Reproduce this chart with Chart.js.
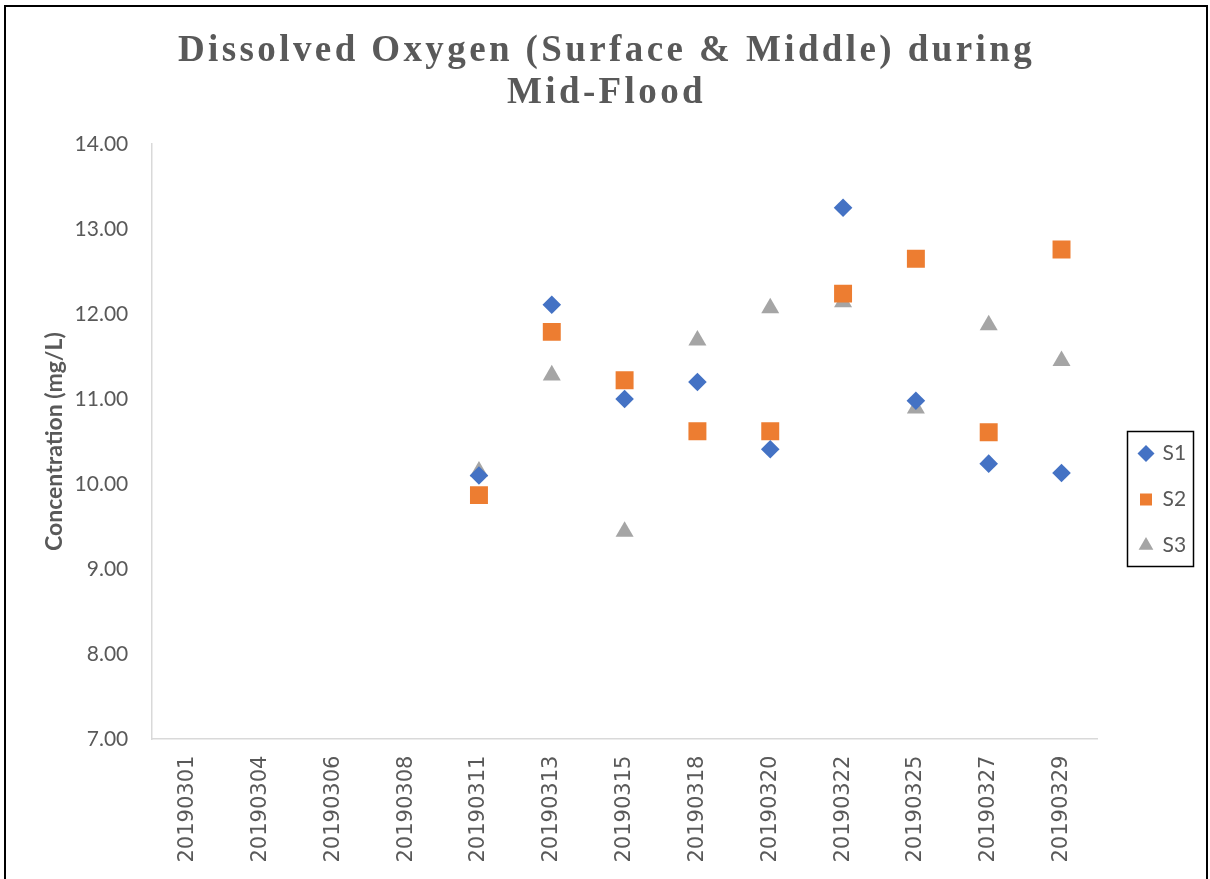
<!DOCTYPE html>
<html>
<head>
<meta charset="utf-8">
<title>Dissolved Oxygen (Surface &amp; Middle) during Mid-Flood</title>
<script src="https://cdn.jsdelivr.net/npm/chart.js@4/dist/chart.umd.min.js"></script>
<style>
  html, body { margin: 0; padding: 0; background: #ffffff; }
  #wrap { width: 1210px; height: 879px; position: relative; overflow: hidden; }
</style>
</head>
<body>
<div id="wrap"><canvas id="chart" width="1210" height="879"></canvas></div>
<script>
// Sampling dates (category axis)
const dates = ['20190301', '20190304', '20190306', '20190308', '20190311', '20190313',
               '20190315', '20190318', '20190320', '20190322', '20190325', '20190327', '20190329'];

// Dissolved oxygen, mg/L, per station (no sampling before 11 March)
const s1 = [null, null, null, null, 10.10, 12.11, 11.00, 11.20, 10.41, 13.25, 10.98, 10.24, 10.13];
const s2 = [null, null, null, null, 9.87, 11.79, 11.22, 10.62, 10.62, 12.24, 12.65, 10.61, 12.76];
const s3 = [null, null, null, null, 10.15, 11.28, 9.44, 11.69, 12.07, 12.14, 10.89, 11.87, 11.45];

const seriesNames = ['S1', 'S2', 'S3'];
const titleLines = ['Dissolved Oxygen (Surface & Middle) during', 'Mid-Flood'];
const yAxisTitle = 'Concentration (mg/L)';
const yMin = 7, yMax = 14, yStep = 1;

const TEXT = '#595959';
const AXIS = '#d9d9d9';

// Title is drawn with a little tracking, like the original heading style,
// and centred on the full canvas width
const titleSpacing = {
  id: 'titleSpacing',
  beforeDraw(chart) {
    const tb = chart.titleBlock;
    if (tb && !tb._spaced) {
      const orig = tb.draw.bind(tb);
      tb.draw = function () {
        const ctx = this.ctx;
        const prev = ctx.letterSpacing;
        ctx.save();
        ctx.translate(-2.5, 0);
        ctx.letterSpacing = '3.4px';
        orig();
        ctx.restore();
        ctx.letterSpacing = prev || '0px';
      };
      tb._spaced = true;
    }
  }
};

// Places the legend beside the plot and frames it
const legendFrame = {
  id: 'legendFrame',
  afterLayout(chart) {
    const lg = chart.legend;
    if (!lg) return;
    const w = lg.width, h = lg.height;
    lg.left = 1115; lg.right = lg.left + w;
    lg.top = 418; lg.bottom = lg.top + h;
  },
  afterDraw(chart) {
    const lg = chart.legend;
    if (!lg) return;
    const ctx = chart.ctx;
    ctx.save();
    ctx.strokeStyle = '#000000';
    ctx.lineWidth = 1.5;
    ctx.strokeRect(1127.5, 431.5, 66, 135);
    ctx.restore();
  }
};

// Outer frame of the chart
const outerFrame = {
  id: 'outerFrame',
  afterDraw(chart) {
    const ctx = chart.ctx;
    ctx.save();
    ctx.strokeStyle = '#000000';
    ctx.lineWidth = 2;
    ctx.strokeRect(5, 6, 1202, 900);
    ctx.restore();
  }
};

const ds = (label, data, color, style, radius) => ({
  label, data,
  showLine: false,
  pointStyle: style,
  pointRadius: radius,
  pointHoverRadius: radius,
  pointBackgroundColor: color,
  pointBorderColor: color,
  pointBorderWidth: 0,
  backgroundColor: color,
  borderColor: color
});

new Chart(document.getElementById('chart'), {
  type: 'line',
  data: {
    labels: dates,
    datasets: [
      ds(seriesNames[0], s1, '#4472C4', 'rectRot', 9.3),
      ds(seriesNames[1], s2, '#ED7D31', 'rect', 12.7),
      ds(seriesNames[2], s3, '#A5A5A5', 'triangle', 10.4)
    ]
  },
  options: {
    responsive: false,
    devicePixelRatio: 1,
    animation: false,
    layout: { padding: { top: 0, left: 39, right: 31, bottom: 0 } },
    plugins: {
      title: {
        display: true,
        text: titleLines,
        color: TEXT,
        font: { family: "'Liberation Serif', 'Times New Roman', serif", size: 37, weight: 'bold', lineHeight: 42 / 37 },
        padding: { top: 30, bottom: 30 }
      },
      legend: {
        display: true,
        position: 'right',
        align: 'start',
        labels: {
          usePointStyle: true,
          boxWidth: 12,
          boxHeight: 12,
          padding: 25,
          color: TEXT,
          font: { family: 'Lato, Carlito, sans-serif', size: 21 }
        }
      },
      tooltip: { enabled: false }
    },
    scales: {
      x: {
        type: 'category',
        offset: true,
        grid: { display: false, drawTicks: false },
        border: { display: true, color: AXIS, width: 1.5 },
        ticks: {
          autoSkip: false,
          minRotation: 90,
          maxRotation: 90,
          padding: 16.5,
          color: TEXT,
          font: { family: "'DejaVu Sans', sans-serif", size: 21 }
        }
      },
      y: {
        min: yMin,
        max: yMax,
        grid: { display: false, drawTicks: false },
        border: { display: true, color: AXIS, width: 1.5 },
        ticks: {
          stepSize: yStep,
          padding: 23,
          color: TEXT,
          font: { family: 'Lato, Carlito, sans-serif', size: 21 },
          callback: v => Number(v).toFixed(2)
        },
        title: {
          display: true,
          text: yAxisTitle,
          color: TEXT,
          font: { family: 'Lato, Carlito, sans-serif', size: 23, weight: 'bold', lineHeight: 1.2 },
          padding: { top: 2, bottom: -17 }
        }
      }
    }
  },
  plugins: [titleSpacing, legendFrame, outerFrame]
});
</script>
</body>
</html>
